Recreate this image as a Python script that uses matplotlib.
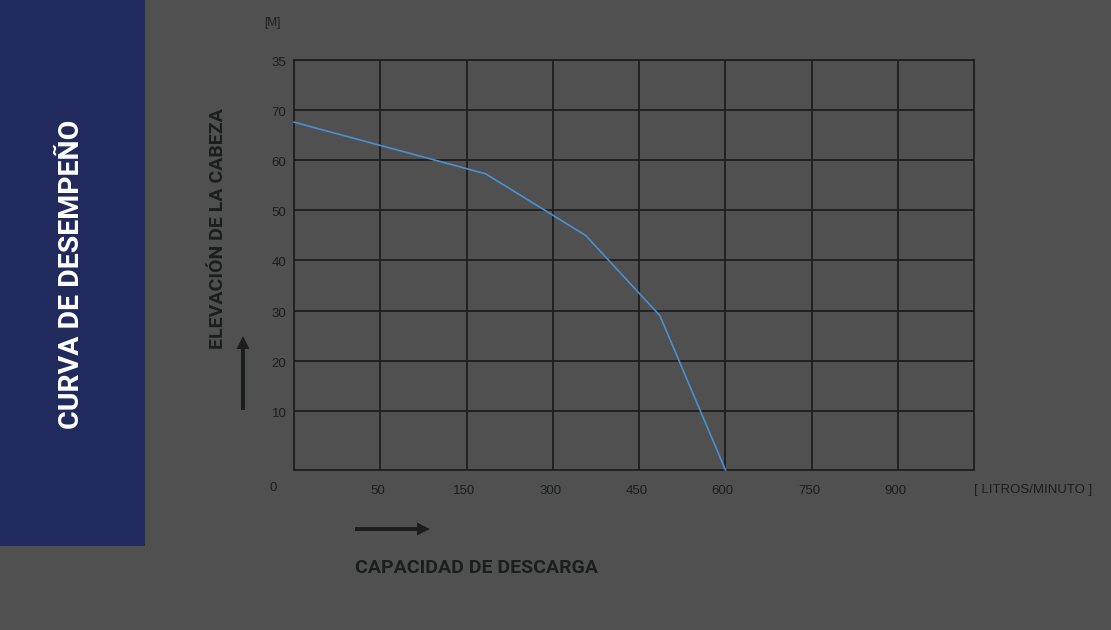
import matplotlib
matplotlib.use("Agg")
import matplotlib.pyplot as plt
from matplotlib.patches import Rectangle, FancyArrow

plt.rcParams["font.family"] = ["Liberation Sans", "DejaVu Sans"]

# grid columns (tick positions) and their printed labels
x_pos = [1, 2, 3, 4, 5, 6, 7]
x_labels = ["50", "150", "300", "450", "600", "750", "900"]
y_pos = [10, 20, 30, 40, 50, 60, 70, 80]
y_labels = ["10", "20", "30", "40", "50", "60", "70", "35"]

# performance curve (grid units, head)
curve_x = [0.0, 2.22, 3.38, 4.24, 5.0]
curve_y = [67.6, 57.3, 45.0, 29.0, -1.8]

BG = "#505050"
NAVY = "#202a5c"
INK = "#1c1e1e"
W, H = 1111, 630
BOLD = dict(family=["Roboto", "DejaVu Sans"], fontweight="bold")

fig = plt.figure(figsize=(W / 100, H / 100), dpi=100, facecolor=BG)

# overlay in pixel coords for panel, titles and arrows
deco = fig.add_axes([0, 0, 1, 1])
deco.set_xlim(0, W); deco.set_ylim(H, 0); deco.axis("off")
deco.add_patch(Rectangle((0, 0), 145, 546, color=NAVY, lw=0))
deco.text(72, 274, "CURVA DE DESEMPEÑO", rotation=90, color="white", fontsize=20.5,
          ha="center", va="center", **BOLD)
deco.text(218, 229, "ELEVACIÓN DE LA CABEZA", rotation=90, color=INK, fontsize=14,
          ha="center", va="center", **BOLD)
deco.text(355, 568, "CAPACIDAD DE DESCARGA", color=INK, fontsize=14,
          ha="left", va="center", **BOLD)
deco.add_patch(FancyArrow(243, 410, 0, -74, width=4, head_width=13, head_length=13,
                          length_includes_head=True, color=INK, lw=0))
deco.add_patch(FancyArrow(355, 529, 75, 0, width=4, head_width=13, head_length=13,
                          length_includes_head=True, color=INK, lw=0))
deco.text(264, 23, "[M]", color=INK, fontsize=8.5, ha="left", va="center")
deco.text(273, 488, "0", color=INK, fontsize=9.5, ha="center", va="center")
deco.text(974, 490, "[ LITROS/MINUTO ]", color=INK, fontsize=9.5, ha="left", va="center")

ax = fig.add_axes([294 / W, 1 - 470 / H, 680 / W, 410 / H])
ax.set_facecolor(BG)
ax.set_xlim(0, 7.88)
ax.set_ylim(-1.8, 80)
ax.plot(curve_x, curve_y, color="#4a90d0", lw=1.2, zorder=3, clip_on=False)
ax.set_xticks(x_pos)
ax.set_yticks(y_pos)
ax.set_xticklabels([])
ax.set_yticklabels([])
ax.grid(True, color=INK, lw=1.3)
ax.tick_params(length=0)
for xp, lab in zip(x_pos, x_labels):
    ax.text(xp - 0.03, -0.05, lab, transform=ax.get_xaxis_transform(), color=INK,
            fontsize=9.5, ha="center", va="center")
for yp, lab in zip(y_pos, y_labels):
    ax.text(-0.011, yp - 0.6, lab, transform=ax.get_yaxis_transform(), color=INK,
            fontsize=9.5, ha="right", va="center")
for s in ax.spines.values():
    s.set_color(INK); s.set_linewidth(1.3)

fig.savefig("out.png", dpi=100, facecolor=BG)
